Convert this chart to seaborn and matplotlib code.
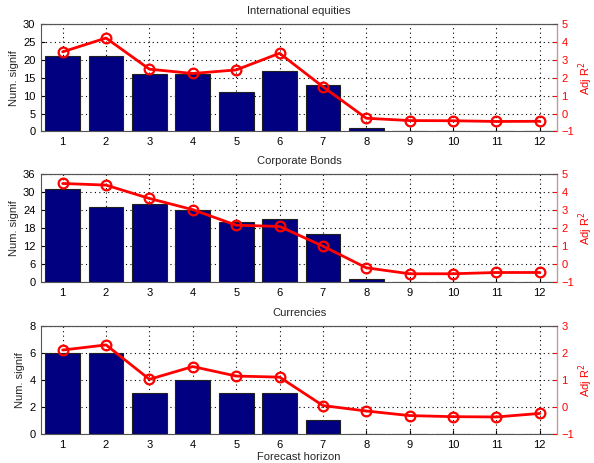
import pandas as pd
import matplotlib
matplotlib.use('Agg')
import matplotlib.pyplot as plt
import seaborn as sns

# dados
horizonte = list(range(1, 13))
titulos = ['International equities', 'Corporate Bonds', 'Currencies']

signif_equities = [21, 21, 16, 16, 11, 17, 13, 1, 0, 0, 0, 0]
signif_bonds = [31, 25, 26, 24, 20, 21, 16, 1, 0, 0, 0, 0]
signif_currencies = [6, 6, 3, 4, 3, 3, 1, 0, 0, 0, 0, 0]

r2_equities = [3.45, 4.22, 2.48, 2.24, 2.44, 3.37, 1.5, -0.26, -0.39, -0.4, -0.44, -0.43]
r2_bonds = [4.48, 4.39, 3.65, 3.03, 2.17, 2.1, 1.01, -0.19, -0.52, -0.52, -0.45, -0.45]
r2_currencies = [2.1, 2.29, 1.02, 1.49, 1.14, 1.1, 0.05, -0.15, -0.32, -0.36, -0.37, -0.24]

# limites dos eixos (esquerda, direita)
ylim_esq = [(0, 30, 5), (0, 36, 6), (0, 8, 2)]
ylim_dir = [(-1, 5), (-1, 5), (-1, 3)]

sns.set_style('ticks')
plt.rcParams['font.family'] = ['Liberation Sans', 'DejaVu Sans']
plt.rcParams['font.size'] = 8

fig = plt.figure(figsize=(5.94, 4.63), dpi=100)
posicoes = [
    [0.069, 0.716, 0.869, 0.232],
    [0.069, 0.390, 0.869, 0.234],
    [0.069, 0.0626, 0.869, 0.234],
]
series_signif = [signif_equities, signif_bonds, signif_currencies]
series_r2 = [r2_equities, r2_bonds, r2_currencies]

for i in range(3):
    df = pd.DataFrame({'h': horizonte, 'n': series_signif[i], 'r2': series_r2[i]})
    ax = fig.add_axes(posicoes[i])
    sns.barplot(data=df, x='h', y='n', native_scale=True, color='#000080',
                saturation=1, edgecolor='#202020', linewidth=0.8, width=0.8, ax=ax)
    ax.set_xlim(0.5, 12.4)
    lo, hi, passo = ylim_esq[i]
    ax.set_ylim(lo, hi)
    ax.set_yticks(range(lo, hi + 1, passo))
    ax.set_xticks(horizonte)
    ax.grid(True, linestyle=(0, (1, 3)), color='black', linewidth=0.8)
    ax.set_axisbelow(True)
    ax.tick_params(direction='in', length=3, labelsize=8, colors='black', pad=4)
    for lado in ['left', 'bottom', 'top']:
        ax.spines[lado].set_color('#555555')
    ax.set_ylabel('Num. signif', fontsize=8, labelpad=3)
    ax.set_xlabel('')
    ax.set_title(titulos[i], fontsize=8, pad=7)

    ax2 = ax.twinx()
    sns.lineplot(data=df, x='h', y='r2', ax=ax2, color='red', linewidth=2,
                 marker='o', markersize=7, markerfacecolor='none',
                 markeredgecolor='red', markeredgewidth=1.6)
    ax2.set_ylim(*ylim_dir[i])
    ax2.set_yticks(range(ylim_dir[i][0], ylim_dir[i][1] + 1))
    ax2.set_xlim(0.5, 12.4)
    ax2.tick_params(direction='in', length=3, labelsize=8, colors='red', pad=3)
    ax2.spines['right'].set_color('#ff8080')
    ax2.spines['left'].set_visible(False)
    ax2.spines['top'].set_color('#555555')
    ax2.spines['bottom'].set_visible(False)
    ax2.set_ylabel('Adj R$^2$', color='red', fontsize=8, labelpad=2)
    ax2.set_xlabel('')

ax.set_xlabel('Forecast horizon', fontsize=8, labelpad=2)

plt.savefig('out.png', dpi=100)
